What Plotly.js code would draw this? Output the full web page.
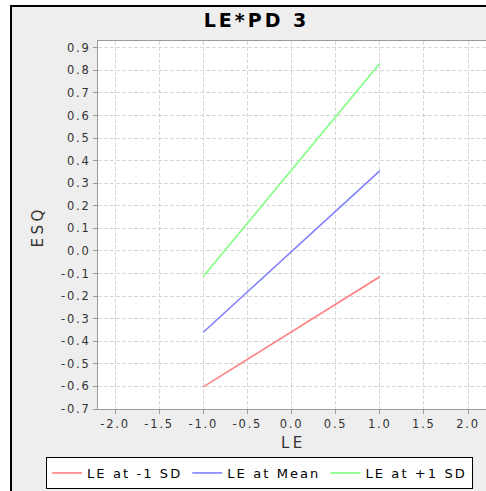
<!DOCTYPE html>
<html>
<head>
<meta charset="utf-8">
<script src="https://cdn.plot.ly/plotly-3.0.1.min.js"></script>
<style>
  html, body { margin: 0; padding: 0; background: #ffffff; overflow: hidden; }
  #frame { position: absolute; left: 10px; top: 5px; width: 490px; height: 500px;
           border-left: 2px solid #000; border-top: 2px solid #000; background: #eeeeee; }
  #chart { position: absolute; left: 0; top: 0; width: 486px; height: 491px; }
  .xtick text, .ytick text { letter-spacing: 1.8px; }
  text.legendtext { letter-spacing: 2.1px; }
  .gtitle { letter-spacing: 3px; }
  .annotation-text { letter-spacing: 3.5px; }
</style>
</head>
<body>
<div id="frame"></div>
<div id="chart"></div>
<script>
// Data
const le = [-1, 1];
const leLowSD = [-0.602, -0.114];
const leMean = [-0.36, 0.355];
const leHighSD = [-0.113, 0.83];
const seriesNames = ["LE at -1 SD", "LE at Mean", "LE at +1 SD"];

const xTickVals = [-2.0, -1.5, -1.0, -0.5, 0.0, 0.5, 1.0, 1.5, 2.0];
const xTickText = ["-2.0", "-1.5", "-1.0", "-0.5", "0.0", "0.5", "1.0", "1.5", "2.0"];
const yTickVals = [0.9, 0.8, 0.7, 0.6, 0.5, 0.4, 0.3, 0.2, 0.1, 0.0, -0.1, -0.2, -0.3, -0.4, -0.5, -0.6, -0.7];
const yTickText = ["0.9", "0.8", "0.7", "0.6", "0.5", "0.4", "0.3", "0.2", "0.1", "0.0", "-0.1", "-0.2", "-0.3", "-0.4", "-0.5", "-0.6", "-0.7"];

const colors = ["#ff8080", "#8080ff", "#80ff80"];
const ys = [leLowSD, leMean, leHighSD];

const traces = ys.map((y, i) => ({
  type: "scatter", mode: "lines", x: le, y: y, name: seriesNames[i],
  line: { color: colors[i], width: 1.6 }, hoverinfo: "skip"
}));

const tickFont = { family: "DejaVu Sans", size: 11.5, color: "#333333" };
const axisCommon = {
  showline: true, linecolor: "#9a9a9a", linewidth: 1, mirror: true,
  ticks: "outside", ticklen: 4, tickcolor: "#9a9a9a", tickwidth: 1,
  showgrid: true, gridcolor: "#d8d8d8", gridwidth: 1, griddash: "4px,2px",
  zeroline: false, tickfont: tickFont, fixedrange: true
};

const layout = {
  width: 486, height: 491,
  margin: { l: 98, r: 0, t: 41, b: 82, pad: 0, autoexpand: false },
  paper_bgcolor: "rgba(0,0,0,0)",
  plot_bgcolor: "#ffffff",
  showlegend: true,
  title: {
    text: "LE*PD 3", xref: "container", yref: "container",
    x: 256.5 / 486, xanchor: "center", y: 1 - 20 / 491, yanchor: "middle",
    font: { family: "DejaVu Sans", size: 19, weight: 700, color: "#000000" }
  },
  xaxis: Object.assign({}, axisCommon, {
    range: [-2.193, 2.204], tickmode: "array", tickvals: xTickVals, ticktext: xTickText
  }),
  yaxis: Object.assign({}, axisCommon, {
    range: [-0.7, 0.93], tickmode: "array", tickvals: yTickVals, ticktext: yTickText
  }),
  legend: {
    orientation: "h", xref: "paper", yref: "paper",
    x: (46 - 98) / 388, xanchor: "left", y: (409 - 457) / 368, yanchor: "top",
    bgcolor: "#ffffff", bordercolor: "#000000", borderwidth: 1,
    font: { family: "DejaVu Sans", size: 13, color: "#000000" },
    itemwidth: 30
  },
  annotations: [
    { text: "LE", xref: "paper", yref: "paper", x: (293.5 - 98) / 388, y: (409 - 443) / 368,
      xanchor: "center", yanchor: "middle", showarrow: false,
      font: { family: "DejaVu Sans", size: 15, color: "#333333" } },
    { text: "ESQ", xref: "paper", yref: "paper", x: (37 - 98) / 388, y: (409 - 227.5) / 368,
      xanchor: "center", yanchor: "middle", showarrow: false, textangle: -90,
      font: { family: "DejaVu Sans", size: 15, color: "#333333" } }
  ]
};

Plotly.newPlot("chart", traces, layout, { displayModeBar: false, staticPlot: true });
</script>
</body>
</html>
